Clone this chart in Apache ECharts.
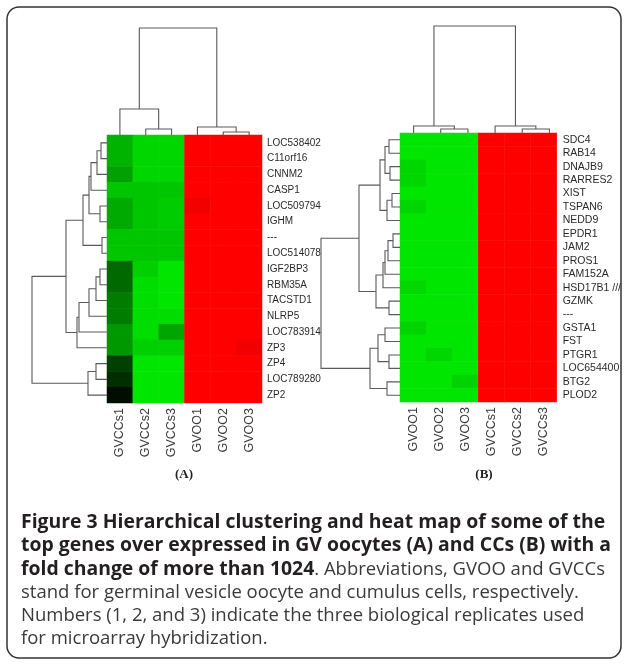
<!DOCTYPE html>
<html>
  <head>
    <meta charset="utf-8" />
    <title>Heat map</title>
    <script src="https://cdn.jsdelivr.net/npm/echarts@6/dist/echarts.min.js"></script>
    <style>
      html, body { margin: 0; padding: 0; background: #fff; }
      #chart { width: 624px; height: 664px; }
    </style>
  </head>
  <body>
    <div id="chart"></div>
    <script type="text/javascript">
      // panel A: genes over expressed in GV oocytes
      const colsA = ['GVCCs1', 'GVCCs2', 'GVCCs3', 'GVOO1', 'GVOO2', 'GVOO3'];
      const genesA = ['LOC538402', 'C11orf16', 'CNNM2', 'CASP1', 'LOC509794', 'IGHM', '---',
        'LOC514078', 'IGF2BP3', 'RBM35A', 'TACSTD1', 'NLRP5', 'LOC783914', 'ZP3', 'ZP4',
        'LOC789280', 'ZP2'];
      // negative = green, positive = red, 10 = full colour, 0 = black
      const valuesA = [
        [-7.8, -9.3, -9.3, 10, 10, 10],
        [-7.8, -9.3, -9.3, 10, 10, 10],
        [-7.0, -9.3, -9.3, 10, 10, 10],
        [-8.6, -8.6, -8.6, 10, 10, 10],
        [-7.4, -8.6, -8.9, 9.5, 10, 10],
        [-7.4, -8.6, -8.9, 10, 10, 10],
        [-8.6, -8.6, -8.6, 10, 10, 10],
        [-8.6, -8.6, -8.6, 10, 10, 10],
        [-4.6, -9.0, -10, 10, 10, 10],
        [-4.6, -9.6, -10, 10, 10, 10],
        [-5.4, -9.6, -10, 10, 10, 10],
        [-5.4, -9.6, -9.6, 10, 10, 10],
        [-6.6, -9.6, -7.2, 10, 10, 10],
        [-6.6, -9.0, -9.0, 10, 10, 9.5],
        [-2.8, -10, -10, 10, 10, 10],
        [-2.0, -10, -10, 10, 10, 10],
        [-0.6, -10, -10, 10, 10, 10]
      ];
      // linkage: [child, child, height]; leaves are 0..n-1, merge k is node n+k
      const rowTreeA = [[0, 1, 6], [17, 2, 10], [18, 3, 16], [4, 5, 7], [19, 20, 18], [6, 7, 5],
        [21, 22, 24], [8, 9, 7], [24, 10, 11], [25, 11, 18], [26, 12, 28], [27, 13, 30],
        [23, 28, 41], [14, 15, 11], [30, 16, 19], [29, 31, 75]];
      const colTreeA = [[1, 2, 6], [0, 6, 26], [4, 5, 3], [3, 8, 8], [7, 9, 107]];

      // panel B: genes over expressed in cumulus cells
      const colsB = ['GVOO1', 'GVOO2', 'GVOO3', 'GVCCs1', 'GVCCs2', 'GVCCs3'];
      const genesB = ['SDC4', 'RAB14', 'DNAJB9', 'RARRES2', 'XIST', 'TSPAN6', 'NEDD9', 'EPDR1',
        'JAM2', 'PROS1', 'FAM152A', 'HSD17B1 ///', 'GZMK', '---', 'GSTA1', 'FST', 'PTGR1',
        'LOC654400', 'BTG2', 'PLOD2'];
      const valuesB = [
        [-10, -10, -10, 10, 10, 10],
        [-10, -10, -10, 10, 10, 10],
        [-9.3, -10, -10, 10, 10, 10],
        [-9.3, -10, -10, 10, 10, 10],
        [-10, -10, -10, 10, 10, 10],
        [-9.3, -10, -10, 10, 10, 10],
        [-10, -10, -10, 10, 10, 10],
        [-10, -10, -10, 10, 10, 10],
        [-10, -10, -10, 10, 10, 10],
        [-10, -10, -10, 10, 10, 10],
        [-10, -10, -10, 10, 10, 10],
        [-9.4, -10, -10, 10, 10, 10],
        [-10, -10, -10, 10, 10, 10],
        [-10, -10, -10, 10, 10, 10],
        [-9.2, -10, -10, 10, 10, 10],
        [-10, -10, -10, 10, 10, 10],
        [-10, -9.3, -10, 10, 10, 10],
        [-10, -10, -10, 10, 10, 10],
        [-10, -10, -9.2, 10, 10, 10],
        [-10, -10, -10, 10, 10, 10]
      ];
      const rowTreeB = [[0, 1, 11], [2, 3, 10], [20, 21, 15], [4, 5, 8], [23, 6, 13], [22, 24, 20],
        [7, 8, 7], [26, 9, 12], [27, 10, 15], [28, 11, 17], [12, 13, 11], [29, 30, 24],
        [25, 31, 41], [14, 15, 15], [16, 17, 11], [33, 34, 22], [18, 19, 13], [35, 36, 30],
        [32, 37, 79]];
      const colTreeB = [[1, 2, 4], [0, 6, 7], [4, 5, 4], [3, 8, 7], [7, 9, 107]];

      const captionBold1 = 'Figure 3 Hierarchical clustering and heat map of some of the';
      const captionBold2 = 'top genes over expressed in GV oocytes (A) and CCs (B) with a';
      const captionBold3 = 'fold change of more than 1024';
      const captionRest = ['. Abbreviations, GVOO and GVCCs',
        'stand for germinal vesicle oocyte and cumulus cells, respectively.',
        'Numbers (1, 2, and 3) indicate the three biological replicates used',
        'for microarray hybridization.'];

      function toCells(values) {
        const out = [];
        values.forEach((row, r) => row.forEach((v, c) => out.push([c, r, v])));
        return out;
      }

      // turn a linkage list into elbow segments [pos1, h1, pos2, h2, h]
      function treeSegments(tree, n) {
        const pos = [], ht = [];
        for (let i = 0; i < n; i++) { pos.push(i + 0.5); ht.push(0); }
        return tree.map(([a, b, h]) => {
          const seg = [pos[a], ht[a], pos[b], ht[b], h];
          pos.push((pos[a] + pos[b]) / 2);
          ht.push(h);
          return seg;
        });
      }

      function dendroSeries(tree, n, xi, yi, rows) {
        return {
          type: 'custom',
          xAxisIndex: xi,
          yAxisIndex: yi,
          silent: true,
          data: treeSegments(tree, n),
          renderItem: function (params, api) {
            const p1 = api.value(0), h1 = api.value(1), p2 = api.value(2), h2 = api.value(3), h = api.value(4);
            let pts = rows
              ? [[h1, p1], [h, p1], [h, p2], [h2, p2]]
              : [[p1, h1], [p1, h], [p2, h], [p2, h2]];
            pts = pts.map((d) => api.coord(d));
            return {
              type: 'polyline',
              shape: { points: pts },
              style: { stroke: '#5a5a5a', lineWidth: 1.1, fill: null }
            };
          }
        };
      }

      const nameFont = "'Liberation Sans', Arial, sans-serif";
      const hidden = { show: false };

      const chart = echarts.init(document.getElementById('chart'), null, { renderer: 'canvas' });
      chart.setOption({
        animation: false,
        backgroundColor: '#fff',
        grid: [
          { left: 107, top: 135, width: 155, height: 268 },
          { left: 400, top: 133, width: 163, height: 269 },
          { left: 32, top: 135, width: 75, height: 268 },
          { left: 107, top: 28, width: 155, height: 107 },
          { left: 321, top: 133, width: 79, height: 269 },
          { left: 400, top: 26, width: 163, height: 107 }
        ],
        xAxis: [
          {
            type: 'category', gridIndex: 0, data: colsA,
            axisLine: hidden, axisTick: hidden,
            axisLabel: { rotate: 90, margin: 5, fontSize: 12.5, color: '#3a3a3a', fontFamily: nameFont }
          },
          {
            type: 'category', gridIndex: 1, data: colsB,
            axisLine: hidden, axisTick: hidden,
            axisLabel: { rotate: 90, margin: 5, fontSize: 12.5, color: '#3a3a3a', fontFamily: nameFont }
          },
          { type: 'value', gridIndex: 2, min: 0, max: 75, inverse: true, show: false },
          { type: 'value', gridIndex: 3, min: 0, max: 6, show: false },
          { type: 'value', gridIndex: 4, min: 0, max: 79, inverse: true, show: false },
          { type: 'value', gridIndex: 5, min: 0, max: 6, show: false }
        ],
        yAxis: [
          {
            type: 'category', gridIndex: 0, data: genesA, inverse: true, position: 'right',
            axisLine: hidden, axisTick: hidden,
            axisLabel: { interval: 0, margin: 5, fontSize: 10, color: '#2a2a2a', fontFamily: nameFont }
          },
          {
            type: 'category', gridIndex: 1, data: genesB, inverse: true, position: 'right',
            axisLine: hidden, axisTick: hidden,
            axisLabel: { interval: 0, margin: 6, fontSize: 10.5, color: '#2a2a2a', fontFamily: nameFont }
          },
          { type: 'value', gridIndex: 2, min: 0, max: genesA.length, inverse: true, show: false },
          { type: 'value', gridIndex: 3, min: 0, max: 107, show: false },
          { type: 'value', gridIndex: 4, min: 0, max: genesB.length, inverse: true, show: false },
          { type: 'value', gridIndex: 5, min: 0, max: 107, show: false }
        ],
        visualMap: {
          show: false,
          seriesIndex: [0, 1],
          dimension: 2,
          min: -10,
          max: 10,
          inRange: { color: ['#00e600', '#000000', '#ff0000'] }
        },
        series: [
          { type: 'heatmap', xAxisIndex: 0, yAxisIndex: 0, data: toCells(valuesA), silent: true },
          { type: 'heatmap', xAxisIndex: 1, yAxisIndex: 1, data: toCells(valuesB), silent: true },
          dendroSeries(rowTreeA, genesA.length, 2, 2, true),
          dendroSeries(colTreeA, colsA.length, 3, 3, false),
          dendroSeries(rowTreeB, genesB.length, 4, 4, true),
          dendroSeries(colTreeB, colsB.length, 5, 5, false)
        ],
        graphic: [
          {
            type: 'rect',
            shape: { x: 7, y: 7, width: 614, height: 651, r: 12 },
            style: { fill: null, stroke: '#333', lineWidth: 1.5 }
          },
          {
            type: 'text', x: 184, y: 475,
            style: { text: '(A)', font: 'bold 13px "Liberation Serif"', fill: '#222', align: 'center', verticalAlign: 'middle' }
          },
          {
            type: 'text', x: 484, y: 475,
            style: { text: '(B)', font: 'bold 13px "Liberation Serif"', fill: '#222', align: 'center', verticalAlign: 'middle' }
          },
          {
            type: 'text', x: 21, y: 511,
            style: {
              text: '{b|' + captionBold1 + '}\n{b|' + captionBold2 + '}\n{b|' + captionBold3 + '}{r|' +
                captionRest[0] + '}\n{r|' + captionRest.slice(1).join('}\n{r|') + '}',
              rich: {
                b: { fontFamily: 'Open Sans', fontWeight: 'bold', fontSize: 19.4, lineHeight: 23.3, fill: '#231f20' },
                r: { fontFamily: 'Open Sans', fontSize: 18.5, lineHeight: 23.3, fill: '#3a3a3a' }
              }
            }
          }
        ]
      });
    </script>
  </body>
</html>
